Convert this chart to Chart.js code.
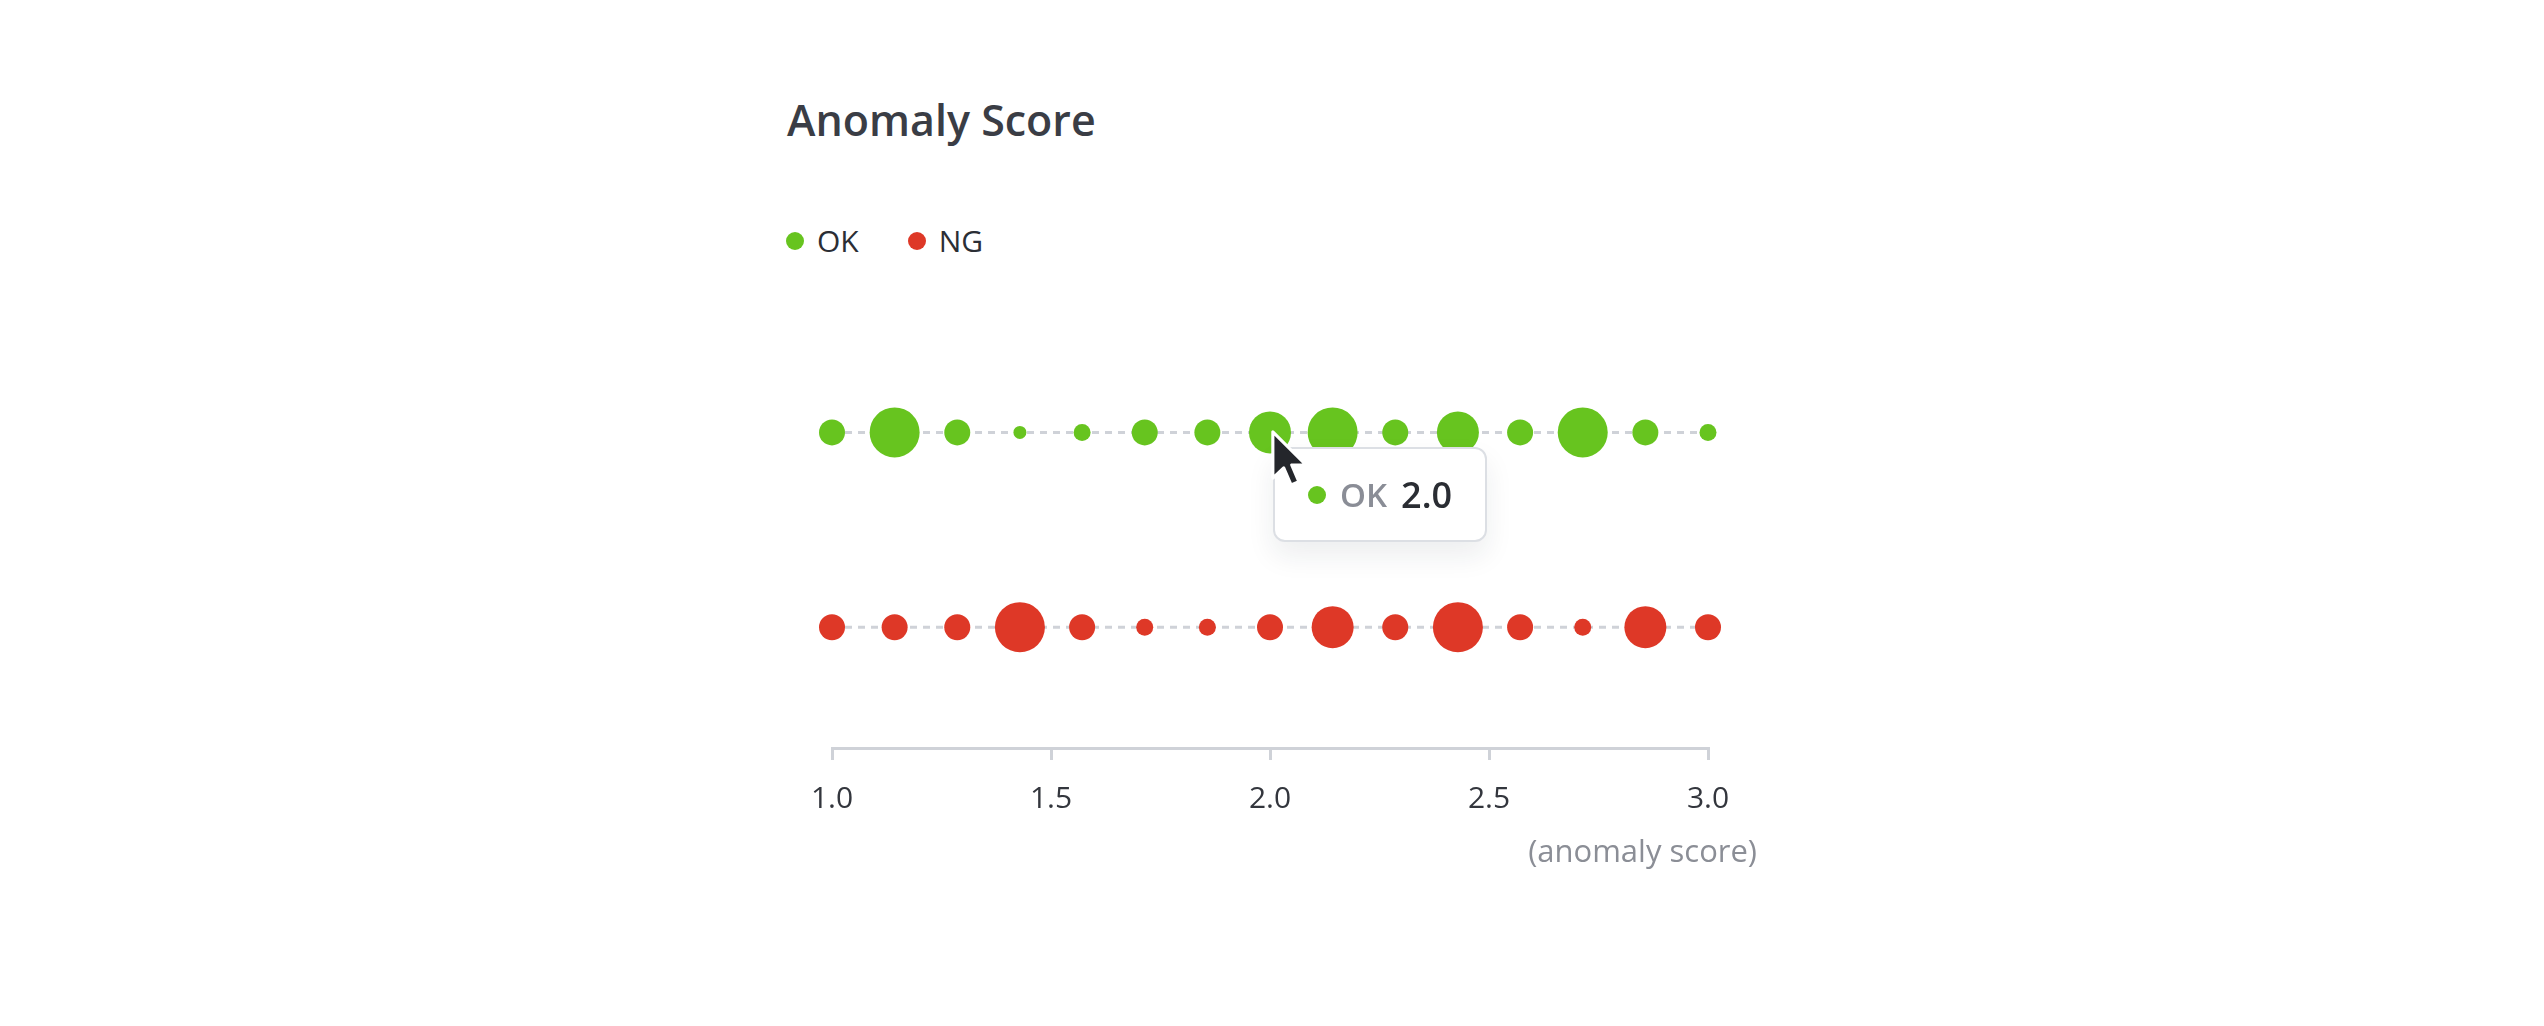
<!DOCTYPE html>
<html>
<head>
<meta charset="utf-8">
<title>Anomaly Score</title>
<script src="https://cdn.jsdelivr.net/npm/chart.js@4.4.1/dist/chart.umd.min.js"></script>
<style>
  html, body { margin: 0; padding: 0; background: #fff; }
  body { width: 2544px; height: 1026px; position: relative; overflow: hidden; font-family: "Open Sans", sans-serif; }
  #wrap { position: absolute; left: 0; top: 0; width: 2544px; height: 1026px; }
  h1 { position: absolute; left: 787px; top: 92px; margin: 0; font-size: 43px; line-height: 56px; font-weight: 600; color: #3a3d45; white-space: nowrap; }
  #legend { position: absolute; left: 786px; top: 221px; display: flex; align-items: center; font-size: 30px; line-height: 40px; color: #2b2e35; }
  .item { display: flex; align-items: center; margin-right: 49px; }
  .dot { width: 18px; height: 18px; border-radius: 50%; margin-right: 13px; }
  #caption { position: absolute; right: 787px; top: 832px; font-size: 31px; line-height: 36px; color: #8b8e96; white-space: nowrap; }
  #tip { position: absolute; box-sizing: border-box; height: 95px; padding: 0 33px; display: flex; align-items: center;
         background: #fff; border: 2px solid #dcdfe4; border-radius: 12px; box-shadow: 0 14px 28px rgba(30, 35, 45, 0.08);
         font-size: 33px; font-weight: 600; line-height: 40px; white-space: nowrap; opacity: 0; pointer-events: none; }
  #tip .tdot { width: 18px; height: 18px; border-radius: 50%; margin-right: 14px; }
  #tip .tname { color: #8a8d96; margin-right: 14px; }
  #tip .tval { color: #2a2d33; font-size: 36px; }
  #cursor { position: absolute; width: 40px; height: 60px; pointer-events: none; }
</style>
</head>
<body>
<h1>Anomaly Score</h1>
<div id="legend"></div>
<div id="wrap"><canvas id="chart"></canvas></div>
<div id="caption">(anomaly score)</div>
<div id="tip"></div>
<svg id="cursor" viewBox="0 0 14 21" style="display:none">
  <path d="M1,1 L1,17.2 L4.8,13.6 L7.4,19.6 L10.1,18.4 L7.6,12.6 L12.6,12.6 Z" fill="#24262b" stroke="#fff" stroke-width="1.1" stroke-linejoin="round"/>
</svg>
<script>
  // Data
  var seriesNames = ['OK', 'NG'];
  var seriesColors = ['#67c41f', '#de3827'];
  var rowLevel = [1, 0];

  var scores = [1.000, 1.143, 1.286, 1.429, 1.571, 1.714, 1.857, 2.000, 2.143, 2.286, 2.429, 2.571, 2.714, 2.857, 3.000];
  var okMagnitude = [2.6, 5.0, 2.6, 1.3, 1.7, 2.6, 2.6, 4.2, 5.0, 2.6, 4.2, 2.6, 5.0, 2.6, 1.7];
  var ngMagnitude = [2.6, 2.6, 2.6, 5.0, 2.6, 1.7, 1.7, 2.6, 4.2, 2.6, 5.0, 2.6, 1.7, 4.2, 2.6];

  var xTicks = [1.0, 1.5, 2.0, 2.5, 3.0];
  var hoverPoint = { series: 0, index: 7 };

  var RADIUS_PER_UNIT = 5;
  var magnitudes = [okMagnitude, ngMagnitude];

  // Legend
  var legend = document.getElementById('legend');
  seriesNames.forEach(function (name, i) {
    var item = document.createElement('div');
    item.className = 'item';
    item.innerHTML = '<span class="dot" style="background:' + seriesColors[i] + '"></span><span>' + name + '</span>';
    legend.appendChild(item);
  });

  // Tooltip (html)
  function externalTooltip(context) {
    var tip = document.getElementById('tip');
    var cursor = document.getElementById('cursor');
    var tooltip = context.tooltip;
    if (tooltip.opacity === 0 || !tooltip.dataPoints || !tooltip.dataPoints.length) {
      tip.style.opacity = 0;
      return;
    }
    var item = tooltip.dataPoints[0];
    var el = item.element;
    tip.innerHTML = '<span class="tdot" style="background:' + seriesColors[item.datasetIndex] + '"></span>' +
      '<span class="tname">' + item.dataset.label + '</span>' +
      '<span class="tval">' + item.parsed.x.toFixed(1) + '</span>';
    var canvas = context.chart.canvas;
    tip.style.left = (canvas.offsetLeft + el.x + 3) + 'px';
    tip.style.top = (canvas.offsetTop + el.y + 15) + 'px';
    tip.style.opacity = 1;
    cursor.style.display = 'block';
    cursor.style.left = (canvas.offsetLeft + el.x) + 'px';
    cursor.style.top = (canvas.offsetTop + el.y - 3) + 'px';
  }

  var datasets = seriesNames.map(function (name, s) {
    return {
      label: name,
      data: scores.map(function (x) { return { x: x, y: rowLevel[s] }; }),
      showLine: true,
      borderColor: '#cfd2d8',
      borderWidth: 3,
      borderDash: [7, 6],
      pointBackgroundColor: seriesColors[s],
      pointBorderWidth: 0,
      pointRadius: magnitudes[s].map(function (m) { return m * RADIUS_PER_UNIT; }),
      pointHoverRadius: magnitudes[s].map(function (m) { return m * RADIUS_PER_UNIT; }),
      pointHoverBorderWidth: 0,
      clip: false
    };
  });

  var chart = new Chart(document.getElementById('chart').getContext('2d'), {
    type: 'scatter',
    data: { datasets: datasets },
    options: {
      responsive: true,
      maintainAspectRatio: false,
      animation: false,
      events: [],
      layout: { padding: { left: 832, right: 836, top: 335, bottom: 198 } },
      plugins: {
        legend: { display: false },
        title: { display: false },
        tooltip: { enabled: false, external: externalTooltip }
      },
      scales: {
        x: {
          type: 'linear',
          min: xTicks[0],
          max: xTicks[xTicks.length - 1],
          afterFit: function (scale) { scale.height = 80; },
          afterBuildTicks: function (scale) {
            scale.ticks = xTicks.map(function (v) { return { value: v }; });
          },
          ticks: {
            padding: 21,
            maxRotation: 0,
            color: '#33363d',
            font: { family: '"Open Sans", sans-serif', size: 30 },
            callback: function (v) { return Number(v).toFixed(1); }
          },
          grid: { drawOnChartArea: false, drawTicks: true, tickLength: 12, color: '#cfd2d8', lineWidth: 3 },
          border: { display: true, color: '#cfd2d8', width: 3 }
        },
        y: {
          display: false,
          min: -0.62,
          max: 1.5
        }
      }
    }
  });

  chart.tooltip.setActiveElements([{ datasetIndex: hoverPoint.series, index: hoverPoint.index }], { x: 0, y: 0 });
  chart.update();
</script>
</body>
</html>
